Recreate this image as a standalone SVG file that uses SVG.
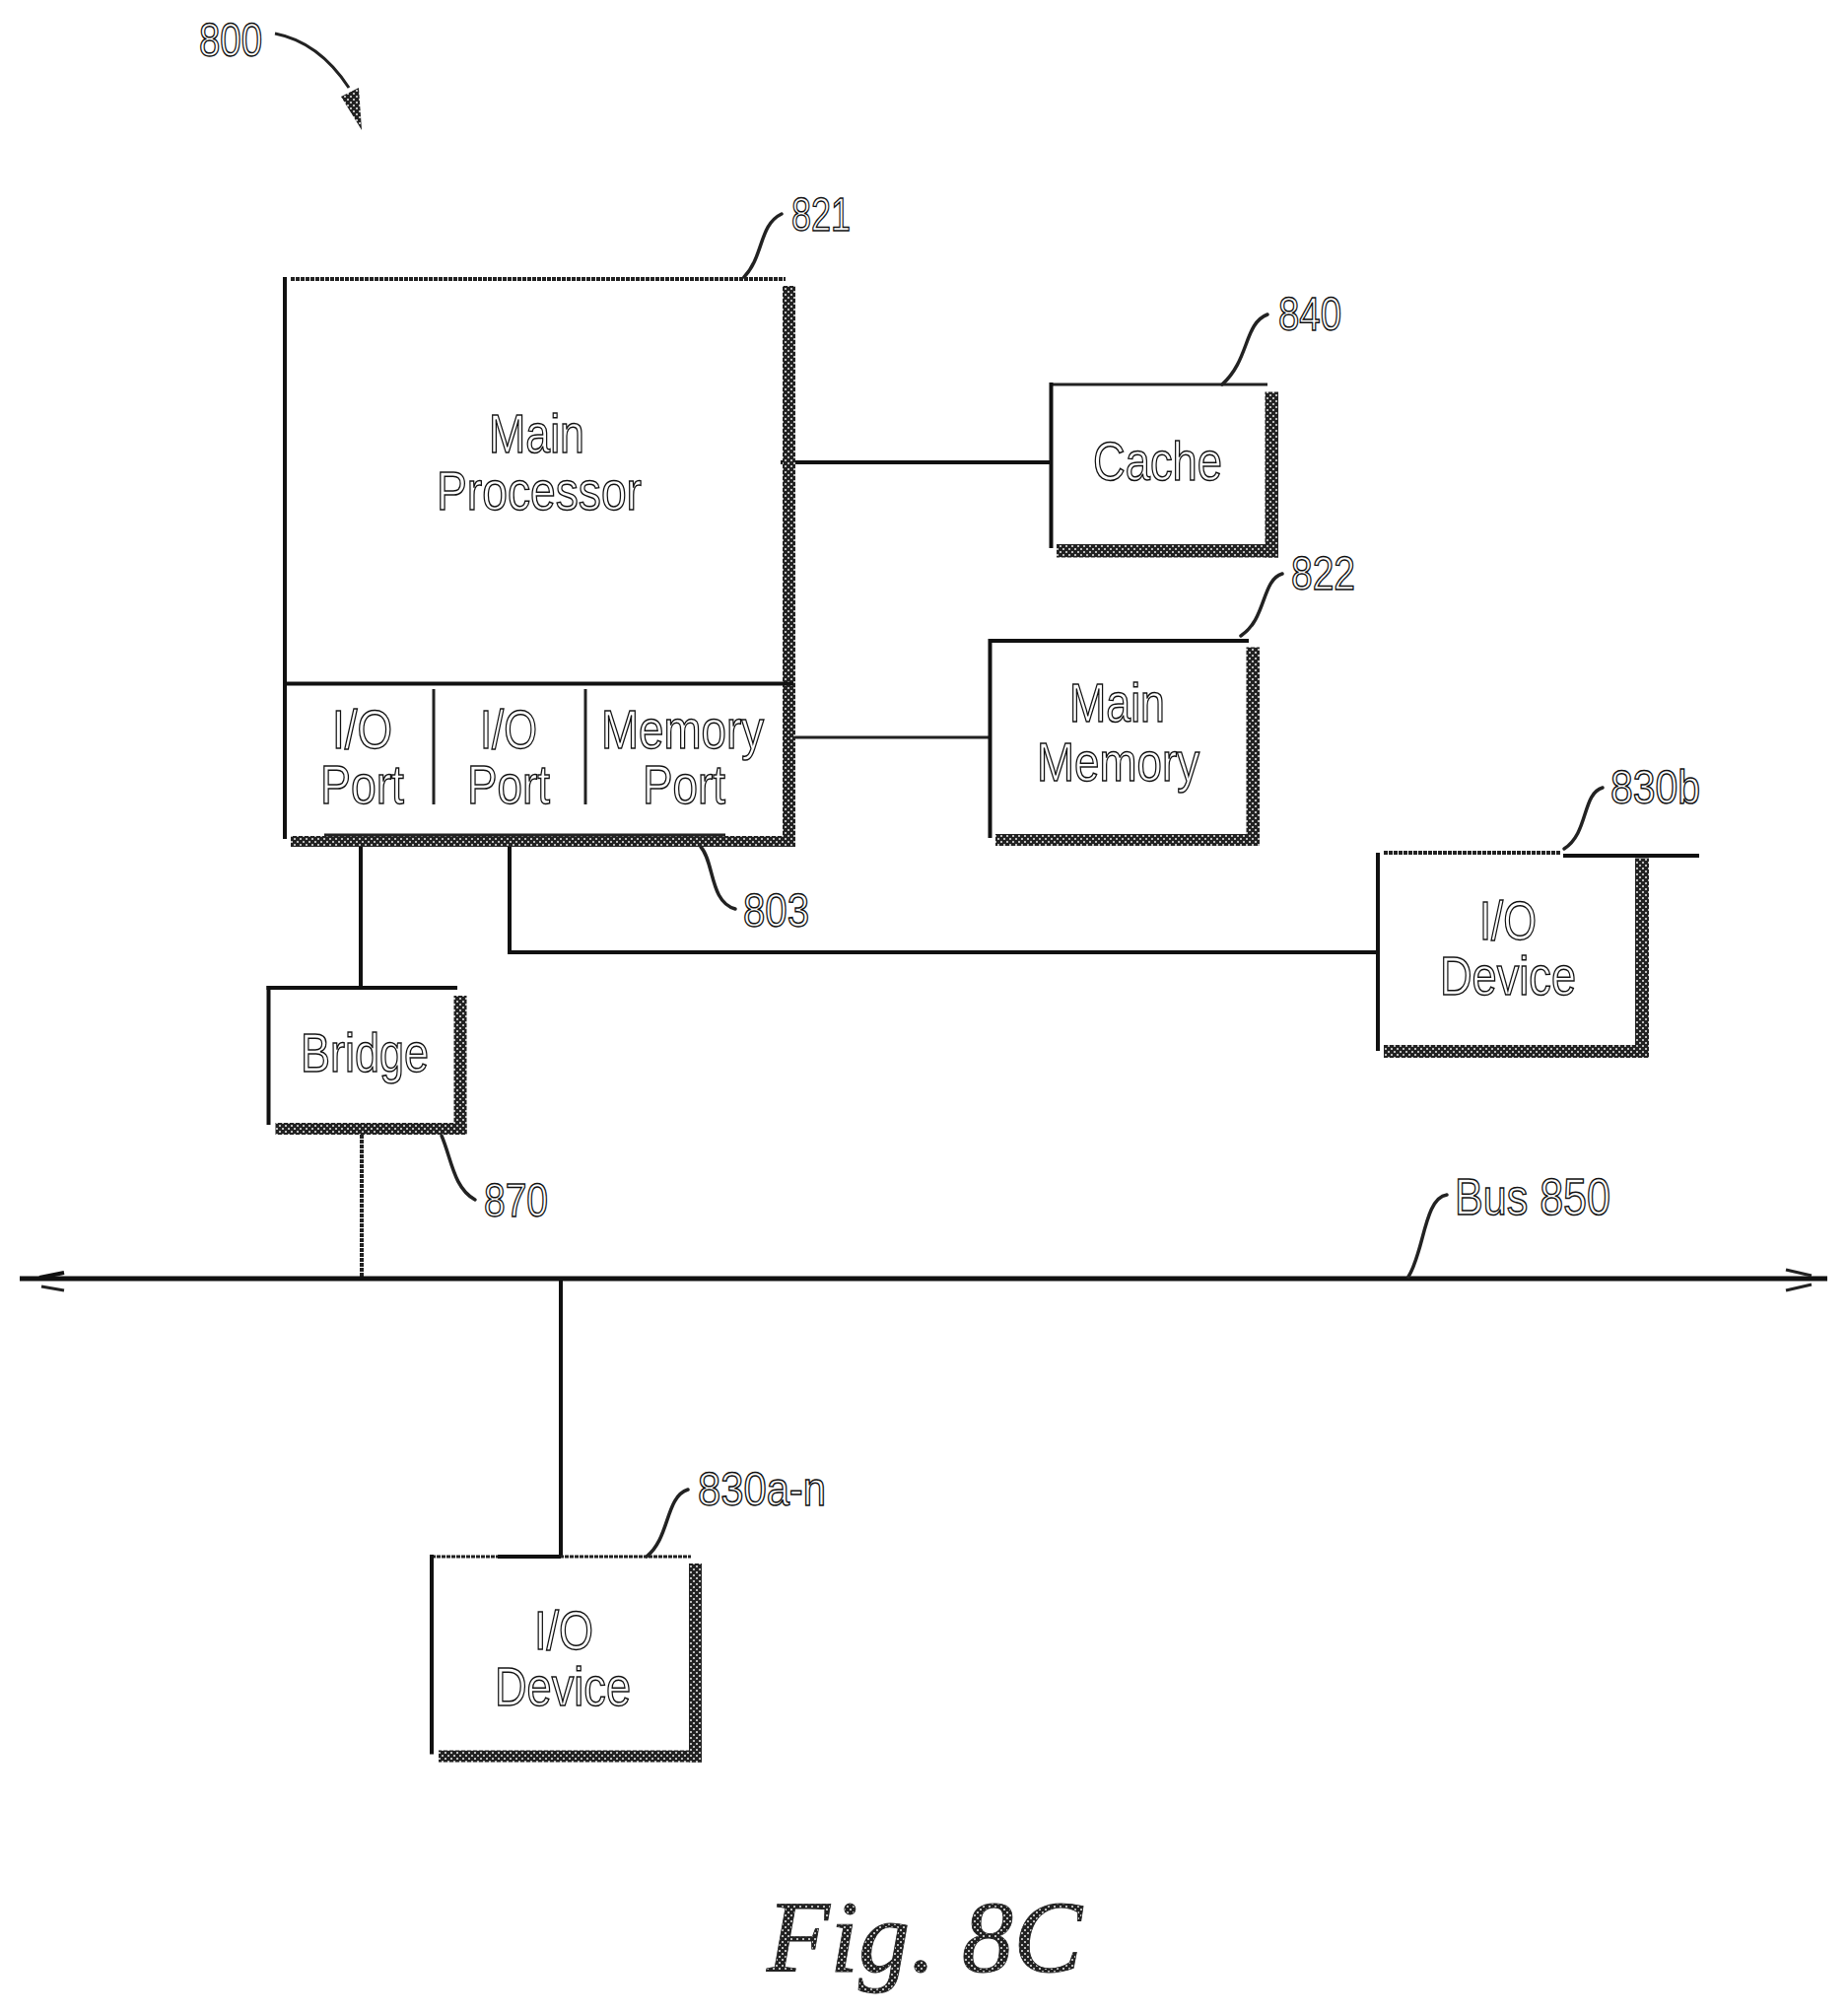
<svg xmlns="http://www.w3.org/2000/svg" width="1875" height="2044" viewBox="0 0 1875 2044">
<style>
.t{font-family:"Liberation Sans",Arial,sans-serif;font-size:55px;fill:#fff;stroke:#111;stroke-width:1.5}
.n{font-family:"Liberation Sans",Arial,sans-serif;font-size:48px;fill:#fff;stroke:#111;stroke-width:1.5}
.l{stroke:#111;stroke-width:4;fill:none}
.th{stroke:#222;stroke-width:3;fill:none}
.dot{stroke:#222;stroke-width:4;fill:none;stroke-dasharray:4 1}
.lead{stroke:#222;stroke-width:3.500;fill:none;stroke-linecap:round}
.sh{fill:url(#hatch)}
</style>
<defs>
<pattern id="hatch" width="6" height="6" patternUnits="userSpaceOnUse">
<rect width="6" height="6" fill="#222"/><rect x="1" y="1" width="2" height="2" fill="#bbb"/><rect x="4" y="4" width="2" height="2" fill="#bbb"/>
</pattern>
</defs>
<g id="connectors">
<path class="l" d="M792 469H1066"/>
<path class="th" d="M804 748H1004"/>
<path class="l" d="M366 855V1002"/>
<path class="l" d="M517 858V966H1398"/>
<path class="dot" d="M367 1151V1297"/>
<path class="l" d="M569 1297V1579"/>
<path class="l" style="stroke-width:5" d="M20 1297H1854"/>
<path class="l" d="M40 1296L65 1291"/>
<path class="th" d="M42 1305L65 1309"/>
<path class="th" d="M1812 1288L1838 1294M1812 1309L1838 1303"/>
</g>
<g id="ref-800">
<text class="n" x="202" y="57" textLength="64" lengthAdjust="spacingAndGlyphs">800</text>
<path class="th" d="M279 34C310 40 335 60 354 89"/>
<path class="sh" d="M346 98L364 89L367 132Z"/>
</g>
<g id="main-processor">
<rect class="sh" x="794" y="290" width="13" height="569"/>
<rect class="sh" x="295" y="848" width="512" height="11"/>
<path class="dot" d="M295 283H797"/>
<path class="l" d="M289 281V851"/>
<path class="l" d="M289 693.500H805"/>
<path class="th" d="M329 847H736"/>
<path class="th" d="M440 699V816M594 699V816"/>
<text class="t" x="496" y="459" textLength="97" lengthAdjust="spacingAndGlyphs">Main</text>
<text class="t" x="443" y="517" textLength="208" lengthAdjust="spacingAndGlyphs">Processor</text>
<text class="t" x="337" y="759" textLength="61" lengthAdjust="spacingAndGlyphs">I/O</text>
<text class="t" x="325" y="815" textLength="85" lengthAdjust="spacingAndGlyphs">Port</text>
<text class="t" x="487" y="759" textLength="58" lengthAdjust="spacingAndGlyphs">I/O</text>
<text class="t" x="474" y="815" textLength="84" lengthAdjust="spacingAndGlyphs">Port</text>
<text class="t" x="610" y="759" textLength="165" lengthAdjust="spacingAndGlyphs">Memory</text>
<text class="t" x="652" y="815" textLength="84" lengthAdjust="spacingAndGlyphs">Port</text>
<path class="lead" d="M793 217C770 228 775 260 755 281"/>
<text class="n" x="803" y="234" textLength="60" lengthAdjust="spacingAndGlyphs">821</text>
<path class="lead" d="M711 859C725 875 720 915 746 922"/>
<text class="n" x="754" y="940" textLength="67" lengthAdjust="spacingAndGlyphs">803</text>
</g>
<g id="cache">
<rect class="sh" x="1283.500" y="397.500" width="13.500" height="168"/>
<rect class="sh" x="1072" y="552" width="225" height="13.500"/>
<path class="th" d="M1066 390H1286"/>
<path class="l" d="M1066.500 388V556"/>
<text class="t" x="1109" y="487" textLength="131" lengthAdjust="spacingAndGlyphs">Cache</text>
<path class="lead" d="M1286 319C1262 328 1268 365 1240 390"/>
<text class="n" x="1297" y="335" textLength="64" lengthAdjust="spacingAndGlyphs">840</text>
</g>
<g id="main-memory">
<rect class="sh" x="1264.500" y="656.500" width="13.500" height="201.500"/>
<rect class="sh" x="1010" y="846" width="268" height="12"/>
<path class="l" d="M1004 650H1267"/>
<path class="l" d="M1004.500 648V850"/>
<text class="t" x="1085" y="732" textLength="97" lengthAdjust="spacingAndGlyphs">Main</text>
<text class="t" x="1052" y="792" textLength="165" lengthAdjust="spacingAndGlyphs">Memory</text>
<path class="lead" d="M1301 582C1280 588 1285 628 1259 645"/>
<text class="n" x="1310" y="598" textLength="65" lengthAdjust="spacingAndGlyphs">822</text>
</g>
<g id="io-device-b">
<rect class="sh" x="1659" y="870.500" width="14" height="202.500"/>
<rect class="sh" x="1404" y="1060" width="269" height="13"/>
<path class="dot" d="M1404 865H1583"/>
<path class="l" d="M1586 868H1724"/>
<path class="l" d="M1398 865V1066"/>
<text class="t" x="1501" y="953" textLength="58" lengthAdjust="spacingAndGlyphs">I/O</text>
<text class="t" x="1461" y="1009" textLength="138" lengthAdjust="spacingAndGlyphs">Device</text>
<path class="lead" d="M1626 799C1605 805 1612 845 1587 861"/>
<text class="n" x="1634" y="815" textLength="91" lengthAdjust="spacingAndGlyphs">830b</text>
</g>
<g id="bridge">
<rect class="sh" x="460.500" y="1010" width="13" height="141"/>
<rect class="sh" x="279.500" y="1139" width="194" height="12"/>
<path class="l" d="M270.500 1002H464"/>
<path class="l" d="M272.500 1000V1141"/>
<text class="t" x="305" y="1087" textLength="130" lengthAdjust="spacingAndGlyphs">Bridge</text>
<path class="lead" d="M448 1152C458 1175 460 1205 482 1217"/>
<text class="n" x="491" y="1234" textLength="65" lengthAdjust="spacingAndGlyphs">870</text>
</g>
<g id="bus">
<text class="t" style="font-size:52px" x="1476" y="1232" textLength="158" lengthAdjust="spacingAndGlyphs">Bus 850</text>
<path class="lead" d="M1468 1212C1445 1215 1445 1270 1429 1295"/>
</g>
<g id="io-device-a">
<rect class="sh" x="699" y="1586" width="13" height="201.500"/>
<rect class="sh" x="445" y="1775.500" width="267" height="12"/>
<path class="dot" style="stroke-width:3" d="M438 1579H701"/>
<path class="l" d="M505 1579H569"/>
<path class="l" d="M438 1577V1779.500"/>
<text class="t" x="542" y="1673" textLength="60" lengthAdjust="spacingAndGlyphs">I/O</text>
<text class="t" x="502" y="1730" textLength="138" lengthAdjust="spacingAndGlyphs">Device</text>
<path class="lead" d="M698 1511C675 1518 680 1560 656 1579"/>
<text class="n" x="708" y="1527" textLength="130" lengthAdjust="spacingAndGlyphs">830a-n</text>
</g>
<text id="caption" x="778" y="2000" font-family="'Liberation Serif','Times New Roman',serif" font-style="italic" font-size="104" fill="url(#hatch)" stroke="#222" stroke-width="0.8" textLength="320" lengthAdjust="spacingAndGlyphs">Fig. 8C</text>
</svg>
